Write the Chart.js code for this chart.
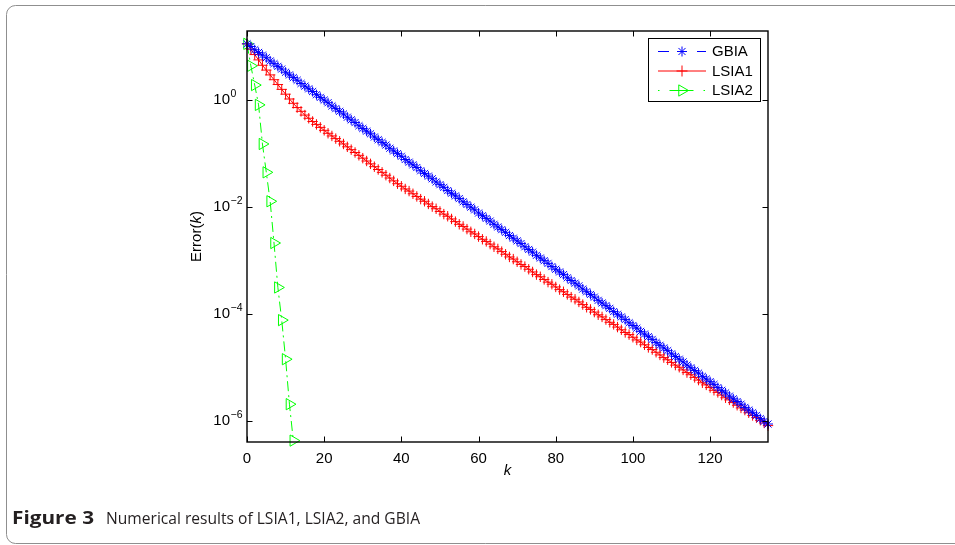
<!DOCTYPE html>
<html><head><meta charset="utf-8">
<script src="https://cdn.jsdelivr.net/npm/chart.js@4/dist/chart.umd.min.js"></script>
<style>html,body{margin:0;padding:0;background:#fff;}#wrap{width:955px;height:545px;position:relative;}</style>
</head><body><div id="wrap"><canvas id="c" width="955" height="545"></canvas></div>
<script>
// ---- data (log10 of Error(k)), index = iteration k ----
const seriesNames = ['GBIA', 'LSIA1', 'LSIA2'];
const gbiaLog10Err = [1.05,1.00,0.94,0.89,0.84,0.79,0.73,0.68,0.63,0.58,
0.52,0.47,0.42,0.37,0.31,0.26,0.21,0.16,0.10,0.05,
0.00,-0.05,-0.11,-0.16,-0.21,-0.26,-0.32,-0.37,-0.42,-0.48,
-0.53,-0.58,-0.63,-0.69,-0.74,-0.79,-0.84,-0.90,-0.95,-1.00,
-1.05,-1.11,-1.16,-1.21,-1.26,-1.32,-1.37,-1.42,-1.47,-1.53,
-1.58,-1.63,-1.69,-1.74,-1.79,-1.84,-1.90,-1.95,-2.00,-2.05,
-2.11,-2.16,-2.21,-2.26,-2.32,-2.37,-2.42,-2.47,-2.53,-2.58,
-2.63,-2.68,-2.74,-2.79,-2.84,-2.90,-2.95,-3.00,-3.05,-3.11,
-3.16,-3.21,-3.26,-3.32,-3.37,-3.42,-3.47,-3.53,-3.58,-3.63,
-3.68,-3.74,-3.79,-3.84,-3.89,-3.95,-4.00,-4.05,-4.10,-4.16,
-4.21,-4.26,-4.32,-4.37,-4.42,-4.47,-4.53,-4.58,-4.63,-4.68,
-4.74,-4.79,-4.84,-4.89,-4.95,-5.00,-5.05,-5.10,-5.16,-5.21,
-5.26,-5.31,-5.37,-5.42,-5.47,-5.53,-5.58,-5.63,-5.68,-5.74,
-5.79,-5.84,-5.89,-5.95,-6.00,-6.05];
const lsia1Log10Err = [1.05,0.95,0.85,0.75,0.65,0.56,0.47,0.38,0.29,0.20,
0.11,0.02,-0.06,-0.14,-0.21,-0.28,-0.34,-0.40,-0.455,-0.51,
-0.565,-0.62,-0.67,-0.72,-0.77,-0.82,-0.873,-0.926,-0.979,-1.032,
-1.085,-1.138,-1.191,-1.244,-1.297,-1.35,-1.403,-1.456,-1.509,-1.562,
-1.61,-1.66,-1.70,-1.75,-1.80,-1.85,-1.89,-1.94,-1.99,-2.03,
-2.08,-2.13,-2.17,-2.22,-2.27,-2.32,-2.36,-2.41,-2.46,-2.50,
-2.55,-2.60,-2.64,-2.69,-2.74,-2.78,-2.83,-2.88,-2.93,-2.97,
-3.02,-3.07,-3.11,-3.16,-3.21,-3.26,-3.30,-3.35,-3.40,-3.44,
-3.49,-3.54,-3.58,-3.63,-3.68,-3.72,-3.77,-3.82,-3.87,-3.91,
-3.96,-4.01,-4.05,-4.10,-4.15,-4.19,-4.24,-4.29,-4.34,-4.38,
-4.43,-4.48,-4.52,-4.57,-4.62,-4.66,-4.71,-4.76,-4.81,-4.85,
-4.90,-4.95,-4.99,-5.04,-5.09,-5.13,-5.18,-5.23,-5.28,-5.32,
-5.37,-5.42,-5.46,-5.51,-5.56,-5.60,-5.65,-5.70,-5.75,-5.79,
-5.84,-5.89,-5.93,-5.98,-6.03,-6.08];
const lsia2Log10Err = [1.05,0.64,0.28,-0.09,-0.82,-1.35,-1.89,-2.67,-3.50,-4.11,-4.84,-5.68,-6.36];
const xTickValues = [0, 20, 40, 60, 80, 100, 120];
const yTickExponents = [0, -2, -4, -6];
const xMin = 0, xMax = 135;
const yMin = 4.11e-7, yMax = 19.5;
const captionBold = 'Figure 3';
const captionText = 'Numerical results of LSIA1, LSIA2, and GBIA';

const toPoints = arr => arr.map((v, k) => ({x: k, y: Math.pow(10, v)}));
const FONT = '"Liberation Sans", Arial, Helvetica, sans-serif';
const CAPFONT = '"Open Sans", "Noto Sans", sans-serif';

const colors = ['#0000ff', '#ff0000', '#00ff00'];

function drawMarker(ctx, style, x, y, r, color) {
  ctx.save();
  ctx.strokeStyle = color; ctx.lineWidth = 1; ctx.setLineDash([]);
  ctx.beginPath();
  if (style === 'star') {
    ctx.moveTo(x - r, y); ctx.lineTo(x + r, y);
    ctx.moveTo(x, y - r); ctx.lineTo(x, y + r);
    const d = r * 0.7071;
    ctx.moveTo(x - d, y - d); ctx.lineTo(x + d, y + d);
    ctx.moveTo(x - d, y + d); ctx.lineTo(x + d, y - d);
  } else if (style === 'cross') {
    ctx.moveTo(x - r, y); ctx.lineTo(x + r, y);
    ctx.moveTo(x, y - r); ctx.lineTo(x, y + r);
  } else {
    ctx.moveTo(x + r, y); ctx.lineTo(x - r / 2, y - 0.866 * r); ctx.lineTo(x - r / 2, y + 0.866 * r); ctx.closePath();
  }
  ctx.stroke();
  ctx.restore();
}

function fitText(ctx, text, x, y, targetWidth) {
  const w = ctx.measureText(text).width;
  ctx.save();
  ctx.translate(x, y);
  ctx.scale(targetWidth / w, 1);
  ctx.fillText(text, 0, 0);
  ctx.restore();
}

const decor = {
  id: 'decor',
  beforeDraw(chart) {
    const ctx = chart.ctx;
    ctx.save();
    ctx.fillStyle = '#fff'; ctx.fillRect(0, 0, chart.width, chart.height);
    // outer rounded frame
    ctx.strokeStyle = '#8f8f8f'; ctx.lineWidth = 1;
    ctx.beginPath();
    ctx.roundRect(6.5, 5.5, 1000, 538, 9);
    ctx.stroke();
    // caption
    ctx.fillStyle = '#231f20';
    ctx.textBaseline = 'alphabetic'; ctx.textAlign = 'left';
    ctx.font = 'bold 17px ' + CAPFONT;
    fitText(ctx, captionBold, 12, 524, 82);
    ctx.font = '15.5px ' + CAPFONT;
    fitText(ctx, captionText, 106, 523.5, 314);
    ctx.restore();
  },
  afterDatasetsDraw(chart) {
    const {ctx, chartArea: a, scales: {x, y}} = chart;
    ctx.save();
    // axes box
    ctx.strokeStyle = '#000'; ctx.lineWidth = 1.4; ctx.setLineDash([]);
    ctx.strokeRect(a.left, a.top, a.right - a.left, a.bottom - a.top);
    // inward ticks on all four sides
    ctx.lineWidth = 1;
    const tl = 5.5;
    ctx.beginPath();
    xTickValues.forEach(v => {
      const px = Math.round(x.getPixelForValue(v)) + 0.5;
      ctx.moveTo(px, a.bottom); ctx.lineTo(px, a.bottom - tl);
      ctx.moveTo(px, a.top); ctx.lineTo(px, a.top + tl);
    });
    yTickExponents.forEach(e => {
      const py = Math.round(y.getPixelForValue(Math.pow(10, e))) + 0.5;
      ctx.moveTo(a.left, py); ctx.lineTo(a.left + tl, py);
      ctx.moveTo(a.right, py); ctx.lineTo(a.right - tl, py);
    });
    ctx.stroke();
    // tick labels
    ctx.fillStyle = '#000';
    ctx.font = '15px ' + FONT;
    ctx.textAlign = 'center'; ctx.textBaseline = 'top';
    xTickValues.forEach(v => ctx.fillText(String(v), x.getPixelForValue(v), a.bottom + 9));
    yTickExponents.forEach(e => {
      const py = y.getPixelForValue(Math.pow(10, e));
      ctx.font = '15px ' + FONT; ctx.textAlign = 'right'; ctx.textBaseline = 'middle';
      ctx.fillText('10', 230, py);
      ctx.font = '10.5px ' + FONT; ctx.textAlign = 'left'; ctx.textBaseline = 'alphabetic';
      ctx.fillText(e === 0 ? '0' : '\u2212' + String(-e), 230.5, py - 3);
    });
    // axis titles
    ctx.textBaseline = 'middle'; ctx.textAlign = 'center';
    ctx.font = 'italic 15px ' + FONT;
    ctx.fillText('k', (a.left + a.right) / 2, a.bottom + 29);
    ctx.save();
    ctx.translate(197, (a.top + a.bottom) / 2);
    ctx.rotate(-Math.PI / 2);
    const parts = [['Error(', ''], ['k', 'italic '], [')', '']];
    let total = 0;
    parts.forEach(p => { ctx.font = p[1] + '15px ' + FONT; total += ctx.measureText(p[0]).width; });
    let cx = -total / 2;
    ctx.textAlign = 'left';
    parts.forEach(p => { ctx.font = p[1] + '15px ' + FONT; ctx.fillText(p[0], cx, 0); cx += ctx.measureText(p[0]).width; });
    ctx.restore();
    // legend
    const L = {x1: 648.5, y1: 38.5, x2: 760.5, y2: 101.5};
    ctx.fillStyle = '#fff';
    ctx.fillRect(L.x1, L.y1, L.x2 - L.x1, L.y2 - L.y1);
    ctx.strokeStyle = '#000'; ctx.lineWidth = 1;
    ctx.strokeRect(L.x1, L.y1, L.x2 - L.x1, L.y2 - L.y1);
    const rows = [
      {dash: [11, 28], style: 'star', r: 5},
      {dash: [], style: 'cross', r: 5.5},
      {dash: [1.5, 10, 24, 10], style: 'tri', r: 6.5}
    ];
    const ys = [51.5, 71, 90.5];
    rows.forEach((row, i) => {
      const yy = ys[i];
      ctx.save();
      ctx.strokeStyle = colors[i]; ctx.lineWidth = 1; ctx.setLineDash(row.dash);
      ctx.beginPath(); ctx.moveTo(658, yy); ctx.lineTo(706, yy); ctx.stroke();
      ctx.restore();
      drawMarker(ctx, row.style, 682, yy, row.r, colors[i]);
      ctx.fillStyle = '#000'; ctx.font = '15px ' + FONT;
      ctx.textAlign = 'left'; ctx.textBaseline = 'middle';
      ctx.fillText(seriesNames[i], 712, yy + 0.5);
    });
    ctx.restore();
  }
};

new Chart(document.getElementById('c'), {
  type: 'line',
  data: {
    datasets: [
      {label: seriesNames[0], data: toPoints(gbiaLog10Err), borderColor: colors[0], borderWidth: 1, borderDash: [7, 5],
       pointStyle: 'star', pointRadius: 5, pointBorderColor: colors[0], pointBackgroundColor: 'transparent', pointBorderWidth: 1,
       fill: false, tension: 0, clip: false},
      {label: seriesNames[1], data: toPoints(lsia1Log10Err), borderColor: colors[1], borderWidth: 1,
       pointStyle: 'cross', pointRadius: 5.2, pointBorderColor: colors[1], pointBackgroundColor: 'transparent', pointBorderWidth: 1,
       fill: false, tension: 0, clip: false},
      {label: seriesNames[2], data: toPoints(lsia2Log10Err), borderColor: colors[2], borderWidth: 1, borderDash: [10, 4, 2, 4],
       pointStyle: 'triangle', pointRotation: 90, pointRadius: 6.5, pointBorderColor: colors[2], pointBackgroundColor: 'transparent', pointBorderWidth: 1,
       fill: false, tension: 0, clip: false}
    ]
  },
  options: {
    responsive: false, animation: false, events: [],
    layout: {padding: {left: 247, top: 31, right: 187, bottom: 103}},
    plugins: {legend: {display: false}, tooltip: {enabled: false}},
    scales: {
      x: {type: 'linear', min: xMin, max: xMax, display: false},
      y: {type: 'logarithmic', min: yMin, max: yMax, display: false}
    }
  },
  plugins: [decor]
});
</script>
</body></html>
